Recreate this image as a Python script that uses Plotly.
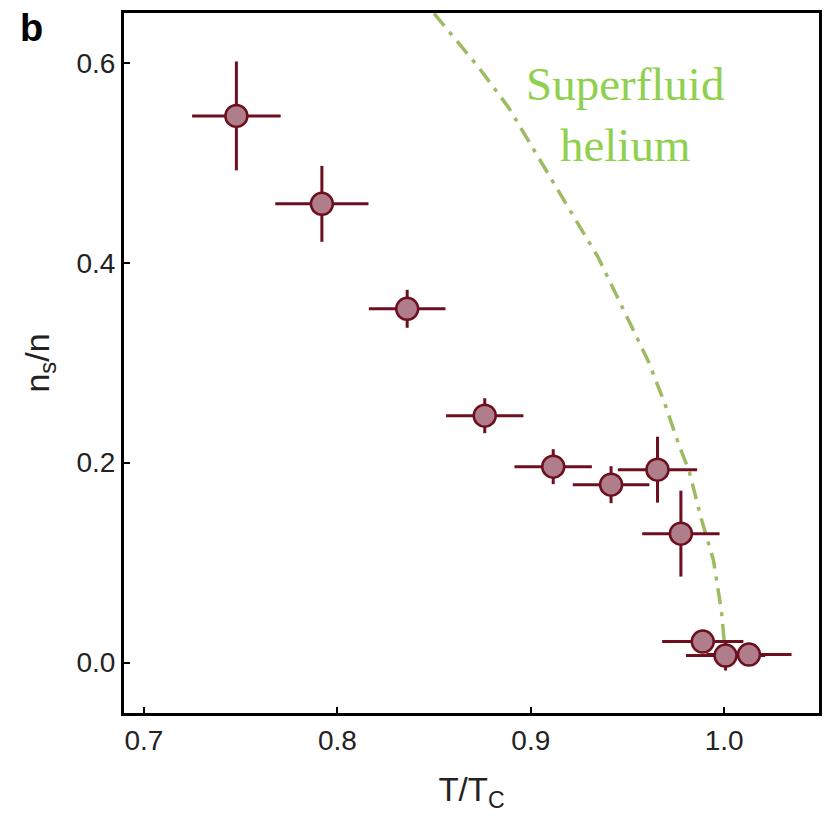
import plotly.graph_objects as go

# Measured data (T/Tc, ns/n) with error bars
t_ratio = [0.7478, 0.7920, 0.8361, 0.8762, 0.9116, 0.9415, 0.9655, 0.9776, 0.9889, 1.0007, 1.0128]
ns_frac = [0.547, 0.459, 0.354, 0.247, 0.196, 0.178, 0.193, 0.129, 0.021, 0.007, 0.008]
t_err = [0.0229, 0.0241, 0.0198, 0.020, 0.020, 0.0198, 0.0205, 0.020, 0.021, 0.0205, 0.022]
ns_err = [0.0545, 0.038, 0.019, 0.0175, 0.0175, 0.0185, 0.033, 0.043, 0.0, 0.015, 0.0]

# Superfluid helium reference curve
he_t = [0.850, 0.8731, 0.8885, 0.9039, 0.9209, 0.9348, 0.9538, 0.9610, 0.9692, 0.9759,
        0.9820, 0.9882, 0.9944, 0.9985, 1.0, 1.0]
he_ns = [0.6495, 0.5955, 0.5555, 0.5055, 0.4495, 0.4055, 0.3295, 0.3005, 0.2595, 0.2215,
         0.1905, 0.1435, 0.1025, 0.0525, 0.0215, 0.0]

x_ticks = [0.7, 0.8, 0.9, 1.0]
y_ticks = [0.0, 0.2, 0.4, 0.6]

maroon = "#6e0f20"
fill = "#b07d8a"
green_line = "#9dbb61"
green_text = "#8fd04f"

fig = go.Figure()
fig.add_trace(go.Scatter(
    x=he_t, y=he_ns, mode="lines",
    line=dict(color=green_line, width=3.5, dash="16px,8px,4px,8px"),
    showlegend=False, hoverinfo="skip"))
fig.add_trace(go.Scatter(
    x=t_ratio, y=ns_frac, mode="markers",
    marker=dict(size=22, color=fill, line=dict(color=maroon, width=2.5)),
    error_x=dict(type="data", array=t_err, visible=True, color=maroon, thickness=3, width=0),
    error_y=dict(type="data", array=ns_err, visible=True, color=maroon, thickness=3, width=0),
    showlegend=False))

fig.add_annotation(x=0.9486, y=0.548, xref="x", yref="y",
                   text="Superfluid<br>helium", showarrow=False,
                   font=dict(family="Liberation Serif", size=47, color=green_text),
                   align="center")
fig.add_annotation(xref="paper", yref="paper", x=-0.152, y=1.012,
                   xanchor="left", yanchor="top", showarrow=False,
                   font=dict(family="Liberation Sans", size=38, color="black"),
                   text="<b>b</b>")

fig.update_layout(
    width=830, height=819,
    margin=dict(l=124, r=8, t=13, b=106),
    plot_bgcolor="white", paper_bgcolor="white",
    font=dict(family="Liberation Sans", color="#222222"),
)
fig.update_xaxes(
    range=[0.6897, 1.049], tickvals=x_ticks, ticktext=["0.7", "0.8", "0.9", "1.0"],
    ticks="inside", ticklen=6, tickwidth=2, tickcolor="black",
    showline=True, linewidth=3, linecolor="black", mirror=True,
    showgrid=False, zeroline=False,
    tickfont=dict(size=28, color="#222222"),
    title=dict(text="T/T<sub>C</sub>", font=dict(size=33, color="#222222"), standoff=24),
)
fig.update_yaxes(
    range=[-0.0505, 0.65], tickvals=y_ticks, ticktext=["0.0", "0.2", "0.4", "0.6"],
    ticks="inside", ticklen=6, tickwidth=2, tickcolor="black",
    showline=True, linewidth=3, linecolor="black", mirror=True,
    showgrid=False, zeroline=False,
    tickfont=dict(size=28, color="#222222"),
    title=dict(text="n<sub>s</sub>/n", font=dict(size=34, color="#222222"), standoff=17),
)

fig.write_html("out.html")
